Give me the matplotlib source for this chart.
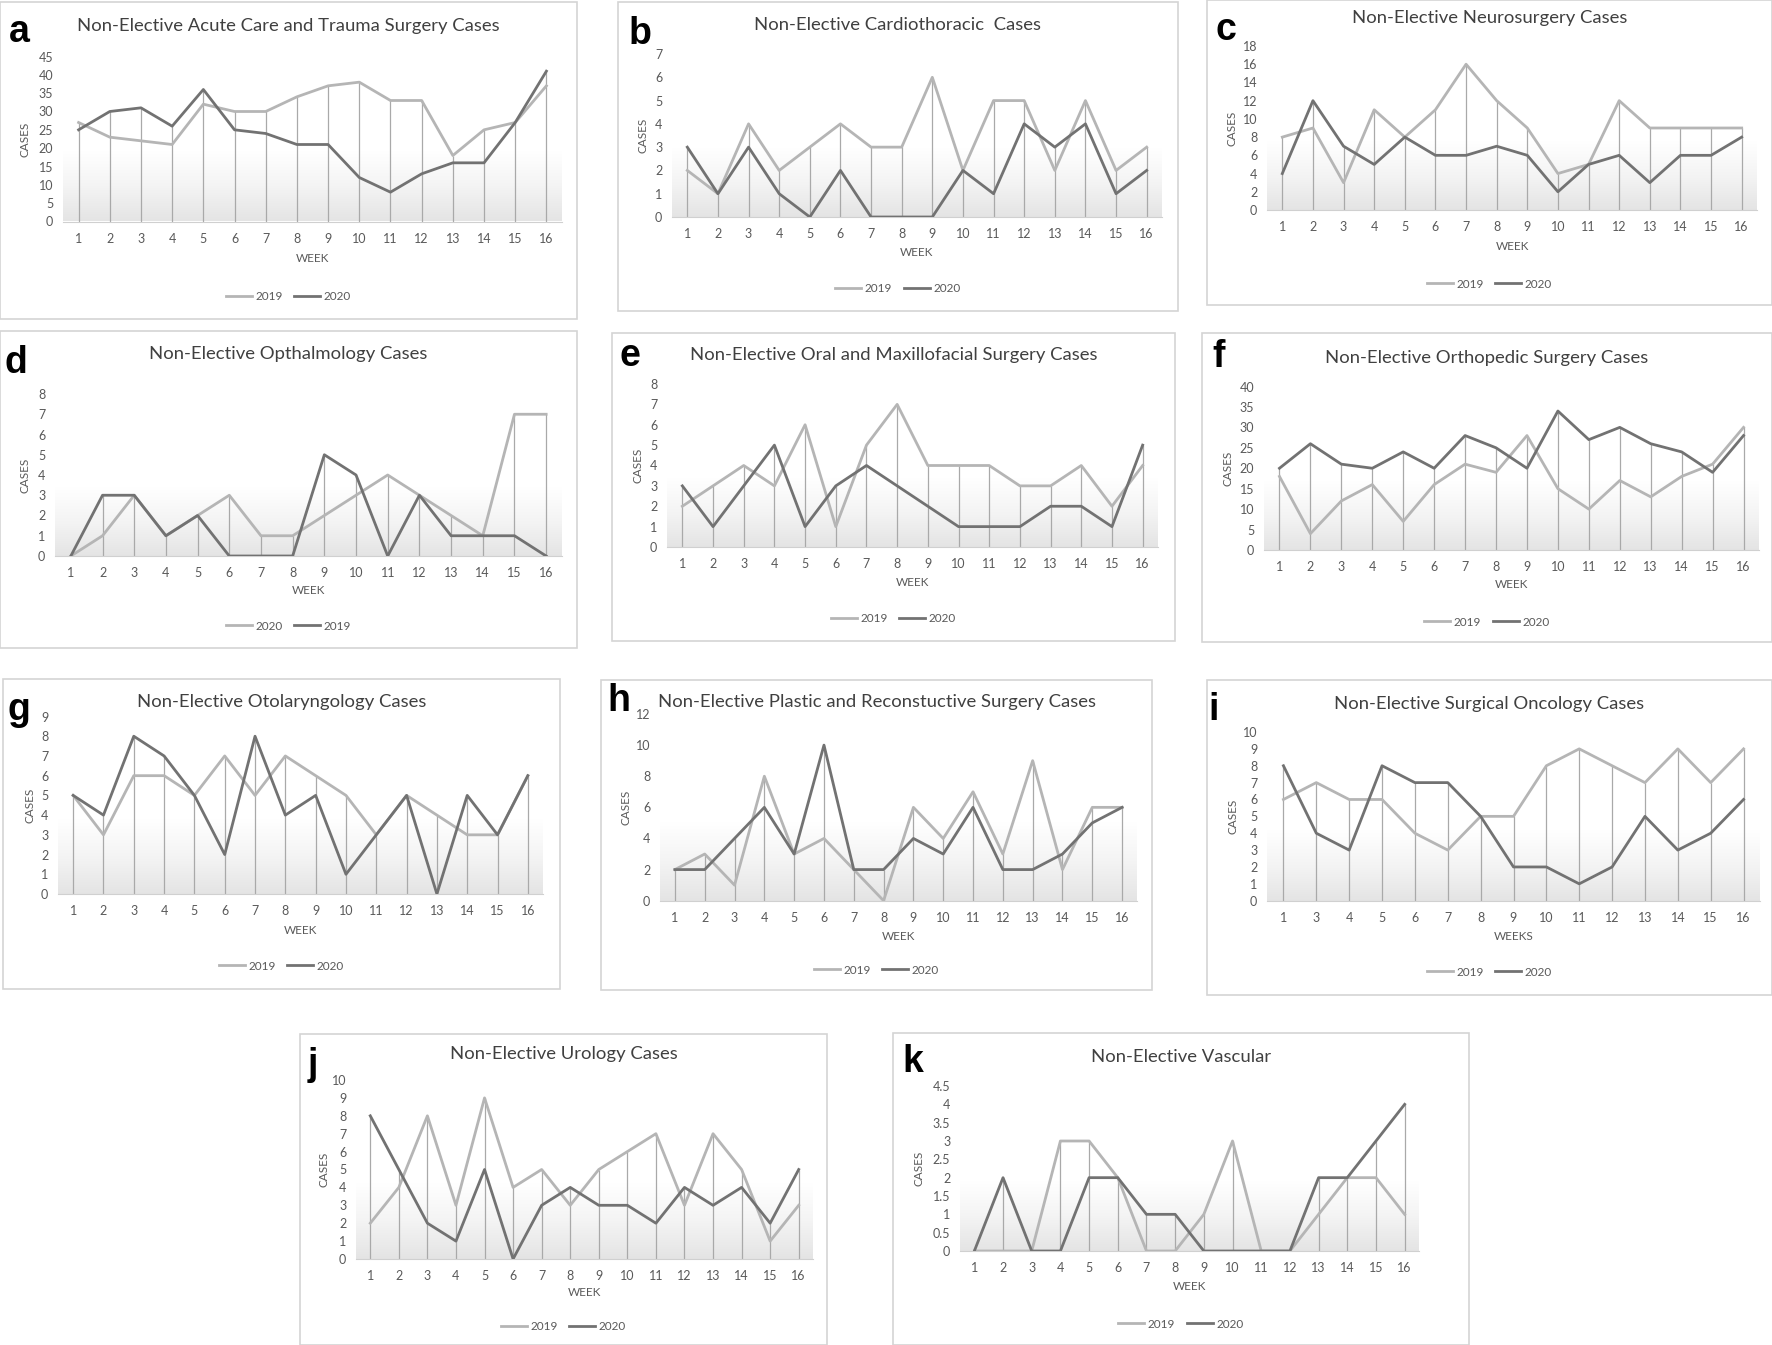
import matplotlib
matplotlib.use("Agg")
import matplotlib.pyplot as plt
from matplotlib.patches import Rectangle
from matplotlib.lines import Line2D
from matplotlib.colors import LinearSegmentedColormap
import numpy as np

plt.rcParams['font.family'] = ['Lato', 'DejaVu Sans']

W, H = 1772, 1345

weeks = list(range(1, 17))
weeks_onc = [1, 3, 4, 5, 6, 7, 8, 9, 10, 11, 12, 13, 14, 15, 16]

# a - acute care and trauma
acute_2019 = [27, 23, 22, 21, 32, 30, 30, 34, 37, 38, 33, 33, 18, 25, 27, 37]
acute_2020 = [25, 30, 31, 26, 36, 25, 24, 21, 21, 12, 8, 13, 16, 16, 27, 41]
# b - cardiothoracic
cardio_2019 = [2, 1, 4, 2, 3, 4, 3, 3, 6, 2, 5, 5, 2, 5, 2, 3]
cardio_2020 = [3, 1, 3, 1, 0, 2, 0, 0, 0, 2, 1, 4, 3, 4, 1, 2]
# c - neurosurgery
neuro_2019 = [8, 9, 3, 11, 8, 11, 16, 12, 9, 4, 5, 12, 9, 9, 9, 9]
neuro_2020 = [4, 12, 7, 5, 8, 6, 6, 7, 6, 2, 5, 6, 3, 6, 6, 8]
# d - opthalmology (legend order is 2020 light, 2019 dark in the original)
optha_light = [0, 1, 3, 1, 2, 3, 1, 1, 2, 3, 4, 3, 2, 1, 7, 7]
optha_dark = [0, 3, 3, 1, 2, 0, 0, 0, 5, 4, 0, 3, 1, 1, 1, 0]
# e - oral and maxillofacial
oral_2019 = [2, 3, 4, 3, 6, 1, 5, 7, 4, 4, 4, 3, 3, 4, 2, 4]
oral_2020 = [3, 1, 3, 5, 1, 3, 4, 3, 2, 1, 1, 1, 2, 2, 1, 5]
# f - orthopedic
ortho_2019 = [18, 4, 12, 16, 7, 16, 21, 19, 28, 15, 10, 17, 13, 18, 21, 30]
ortho_2020 = [20, 26, 21, 20, 24, 20, 28, 25, 20, 34, 27, 30, 26, 24, 19, 28]
# g - otolaryngology
oto_2019 = [5, 3, 6, 6, 5, 7, 5, 7, 6, 5, 3, 5, 4, 3, 3, 6]
oto_2020 = [5, 4, 8, 7, 5, 2, 8, 4, 5, 1, 3, 5, 0, 5, 3, 6]
# h - plastic and reconstructive
plastic_2019 = [2, 3, 1, 8, 3, 4, 2, 0, 6, 4, 7, 3, 9, 2, 6, 6]
plastic_2020 = [2, 2, 4, 6, 3, 10, 2, 2, 4, 3, 6, 2, 2, 3, 5, 6]
# i - surgical oncology
onc_2019 = [6, 7, 6, 6, 4, 3, 5, 5, 8, 9, 8, 7, 9, 7, 9]
onc_2020 = [8, 4, 3, 8, 7, 7, 5, 2, 2, 1, 2, 5, 3, 4, 6]
# j - urology
uro_2019 = [2, 4, 8, 3, 9, 4, 5, 3, 5, 6, 7, 3, 7, 5, 1, 3]
uro_2020 = [8, 5, 2, 1, 5, 0, 3, 4, 3, 3, 2, 4, 3, 4, 2, 5]
# k - vascular
vasc_2019 = [0, 0, 0, 3, 3, 2, 0, 0, 1, 3, 0, 0, 1, 2, 2, 1]
vasc_2020 = [0, 2, 0, 0, 2, 2, 1, 1, 0, 0, 0, 0, 2, 2, 3, 4]

panels = [
    ("a", "Non-Elective Acute Care and Trauma Surgery Cases", weeks, acute_2019, acute_2020, "2019", "2020", 45, 5, "WEEK"),
    ("b", "Non-Elective Cardiothoracic  Cases", weeks, cardio_2019, cardio_2020, "2019", "2020", 7, 1, "WEEK"),
    ("c", "Non-Elective Neurosurgery Cases", weeks, neuro_2019, neuro_2020, "2019", "2020", 18, 2, "WEEK"),
    ("d", "Non-Elective Opthalmology Cases", weeks, optha_light, optha_dark, "2020", "2019", 8, 1, "WEEK"),
    ("e", "Non-Elective Oral and Maxillofacial Surgery Cases", weeks, oral_2019, oral_2020, "2019", "2020", 8, 1, "WEEK"),
    ("f", "Non-Elective Orthopedic Surgery Cases", weeks, ortho_2019, ortho_2020, "2019", "2020", 40, 5, "WEEK"),
    ("g", "Non-Elective Otolaryngology Cases", weeks, oto_2019, oto_2020, "2019", "2020", 9, 1, "WEEK"),
    ("h", "Non-Elective Plastic and Reconstuctive Surgery Cases", weeks, plastic_2019, plastic_2020, "2019", "2020", 12, 2, "WEEK"),
    ("i", "Non-Elective Surgical Oncology Cases", weeks_onc, onc_2019, onc_2020, "2019", "2020", 10, 1, "WEEKS"),
    ("j", "Non-Elective Urology Cases", weeks, uro_2019, uro_2020, "2019", "2020", 10, 1, "WEEK"),
    ("k", "Non-Elective Vascular", weeks, vasc_2019, vasc_2020, "2019", "2020", 4.5, 0.5, "WEEK"),
]

# layout in pixels: box, plot area (left, right, zero line, top), title y, letter, legend y, xlabel y, ylabel x
layout = {
    "a": dict(box=(0, 2, 577, 319), ax=(63, 562, 221.5, 56.5), ty=26, let=(19, 32), ly=297, xl=258, yl=25),
    "b": dict(box=(618, 2, 1178, 311), ax=(672, 1162, 217, 54), ty=25, let=(640, 34), ly=289, xl=253, yl=643),
    "c": dict(box=(1207, 0, 1772, 305), ax=(1267, 1757, 210, 46), ty=18, let=(1226, 30), ly=284, xl=247, yl=1232),
    "d": dict(box=(0, 331, 577, 648), ax=(55, 562, 556, 394), ty=354, let=(16, 363), ly=626, xl=591, yl=25),
    "e": dict(box=(612, 333, 1175, 641), ax=(667, 1158, 547, 384), ty=355, let=(630, 356), ly=619, xl=583, yl=638),
    "f": dict(box=(1202, 333, 1772, 642), ax=(1264, 1759, 550, 386.5), ty=358, let=(1219, 357), ly=622, xl=585, yl=1228),
    "g": dict(box=(3, 679, 560, 989), ax=(58, 543, 894, 716.5), ty=702, let=(19, 710), ly=966, xl=930, yl=30.5),
    "h": dict(box=(601, 680, 1152, 990), ax=(660, 1137, 900.7, 714), ty=702, let=(619, 701), ly=970, xl=936, yl=626),
    "i": dict(box=(1207, 680, 1772, 995), ax=(1267, 1760, 900.7, 732), ty=704, let=(1214, 710), ly=972, xl=936, yl=1233),
    "j": dict(box=(300, 1034, 827, 1345), ax=(356, 813, 1259, 1080), ty=1054, let=(313, 1065), ly=1327, xl=1293, yl=324),
    "k": dict(box=(893, 1033, 1469, 1345), ax=(960, 1419, 1251, 1086), ty=1057, let=(913, 1062), ly=1324, xl=1287, yl=919),
}

LIGHT = "#b5b5b5"
DARK = "#727272"
TXT = "#404040"

grad_cmap = LinearSegmentedColormap.from_list("g", ["#e4e4e4", "#f4f4f4", "#ffffff"])
grad = np.linspace(0, 1, 256).reshape(-1, 1)

fig = plt.figure(figsize=(W / 100, H / 100), dpi=100)


def fx(px):
    return px / W


def fy(py):
    return 1 - py / H


for letter, title, xlabels, s1, s2, lab1, lab2, ymax, ystep, xlab in panels:
    L = layout[letter]
    bx0, by0, bx1, by1 = L["box"]
    fig.patches.append(Rectangle((fx(bx0), fy(by1)), (bx1 - bx0) / W, (by1 - by0) / H,
                                 transform=fig.transFigure, fill=False, edgecolor="#d4d4d4", lw=1.2))
    l, r, y0, yt = L["ax"]
    ax = fig.add_axes([fx(l), fy(y0), (r - l) / W, (y0 - yt) / H])
    n = len(xlabels)
    x = np.arange(1, n + 1)

    ax.imshow(grad, extent=(0, 1, 0, 0.42), transform=ax.transAxes, cmap=grad_cmap,
              aspect="auto", origin="lower", zorder=0)
    ax.vlines(x, 0, np.maximum(s1, s2), color="#a9a9a9", lw=0.9, zorder=1)
    ax.plot(x, s1, color=LIGHT, lw=2.0, zorder=2)
    ax.plot(x, s2, color=DARK, lw=2.0, zorder=3)

    ax.set_xlim(0.5, n + 0.5)
    ax.set_ylim(0, ymax)
    ax.set_xticks(x)
    ax.set_xticklabels([str(w) for w in xlabels])
    yt_vals = np.arange(0, ymax + ystep / 2, ystep)
    ax.set_yticks(yt_vals)
    ax.set_yticklabels(["{:g}".format(v) for v in yt_vals])
    ax.tick_params(length=0, labelsize=9, labelcolor="#595959", pad=7)
    ax.tick_params(axis="x", pad=8)
    for s in ["top", "right", "left"]:
        ax.spines[s].set_visible(False)
    ax.spines["bottom"].set_color("#d0d0d0")
    ax.set_facecolor("white")

    cx = (bx0 + bx1) / 2
    fig.text(fx(cx), fy(L["ty"]), title, ha="center", va="center", fontsize=13.3, color=TXT)
    fig.text(fx(L["let"][0]), fy(L["let"][1]), letter, ha="center", va="center",
             fontsize=27, fontweight="bold", family="Liberation Sans", color="black")
    fig.text(fx((l + r) / 2), fy(L["xl"]), xlab, ha="center", va="center", fontsize=8.5, color="#595959")
    fig.text(fx(L["yl"]), fy((y0 + yt) / 2), "CASES", ha="center", va="center", rotation=90,
             fontsize=8.5, color="#595959")

    handles = [Line2D([], [], color=LIGHT, lw=2.0), Line2D([], [], color=DARK, lw=2.0)]
    fig.legend(handles, [lab1, lab2], loc="center", bbox_to_anchor=(fx(cx), fy(L["ly"])),
               ncol=2, frameon=False, fontsize=8.5, handlelength=2.2, handletextpad=0.3,
               columnspacing=1.0, labelcolor="#595959")

fig.savefig("out.png", dpi=100, facecolor="white")
